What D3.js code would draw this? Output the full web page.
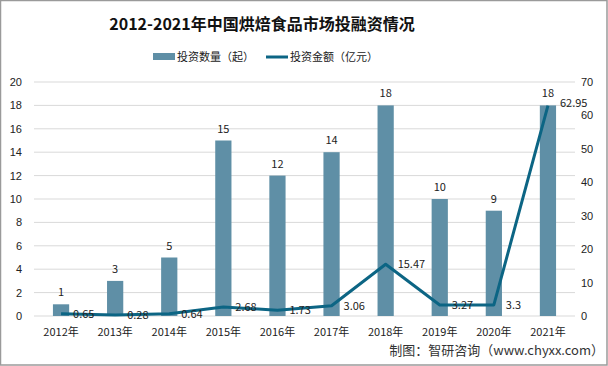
<!DOCTYPE html>
<html lang="zh">
<head>
<meta charset="UTF-8">
<script src="https://d3js.org/d3.v7.min.js"></script>
<style>
  body { margin: 0; background: #fff; }
  svg { display: block; font-family: "Noto Sans CJK SC", "Liberation Sans", sans-serif; }
</style>
</head>
<body>
<div id="chart"></div>
<script>
// 数据
const years = ["2012年", "2013年", "2014年", "2015年", "2016年", "2017年", "2018年", "2019年", "2020年", "2021年"];
const counts = [1, 3, 5, 15, 12, 14, 18, 10, 9, 18];
const amounts = [0.65, 0.28, 0.64, 2.68, 1.73, 3.06, 15.47, 3.27, 3.3, 62.95];
const leftTicks = [0, 2, 4, 6, 8, 10, 12, 14, 16, 18, 20];
const rightTicks = [0, 10, 20, 30, 40, 50, 60, 70];

const W = 608, H = 366;
const margin = { top: 82, right: 33, bottom: 50, left: 34 };
const barColor = "#5f8fa6", lineColor = "#0c6584";

const svg = d3.select("#chart").append("svg")
  .attr("width", W).attr("height", H);

svg.append("rect")
  .attr("x", 0.5).attr("y", 0.5).attr("width", W - 1.5).attr("height", H - 1.5)
  .attr("fill", "#fff").attr("stroke", "#9a9a9a").attr("stroke-width", 1.5);

const x = d3.scaleBand().domain(years)
  .range([margin.left, W - margin.right]).paddingInner(0.7).paddingOuter(0.35);
const yL = d3.scaleLinear().domain([0, 20]).range([H - margin.bottom, margin.top]);
const yR = d3.scaleLinear().domain([0, 70]).range([H - margin.bottom, margin.top]);

// 网格线
svg.append("g").selectAll("line").data(leftTicks).join("line")
  .attr("x1", margin.left).attr("x2", W - margin.right)
  .attr("y1", d => yL(d)).attr("y2", d => yL(d))
  .attr("stroke", "#d9d9d9").attr("stroke-width", 1);

// 左轴
const axL = svg.append("g").attr("transform", `translate(${margin.left - 12},0)`)
  .call(d3.axisLeft(yL).tickValues(leftTicks).tickSize(0).tickPadding(0));
axL.select(".domain").remove();
axL.selectAll("text").attr("font-size", 11).attr("fill", "#222");

// 右轴
const axR = svg.append("g").attr("transform", `translate(${W - margin.right + 6},0)`)
  .call(d3.axisRight(yR).tickValues(rightTicks).tickSize(0).tickPadding(0));
axR.select(".domain").remove();
axR.selectAll("text").attr("font-size", 11).attr("fill", "#222");

// X 轴标签
svg.append("g").selectAll("text").data(years).join("text")
  .attr("x", d => x(d) + x.bandwidth() / 2)
  .attr("y", H - margin.bottom + 20)
  .attr("text-anchor", "middle").attr("font-size", 11).attr("fill", "#222")
  .text(d => d);

// 柱子
svg.append("g").selectAll("rect").data(counts).join("rect")
  .attr("x", (d, i) => x(years[i]))
  .attr("y", d => yL(d))
  .attr("width", x.bandwidth())
  .attr("height", d => yL(0) - yL(d))
  .attr("fill", barColor);

svg.append("g").selectAll("text").data(counts).join("text")
  .attr("x", (d, i) => x(years[i]) + x.bandwidth() / 2)
  .attr("y", d => yL(d) - 8)
  .attr("text-anchor", "middle").attr("font-size", 11).attr("fill", "#222")
  .text(d => d);

// 折线
const line = d3.line()
  .x((d, i) => x(years[i]) + x.bandwidth() / 2)
  .y(d => yR(d));

svg.append("path").datum(amounts)
  .attr("d", line).attr("fill", "none")
  .attr("stroke", lineColor).attr("stroke-width", 3)
  .attr("stroke-linejoin", "round");

svg.append("g").selectAll("text").data(amounts).join("text")
  .attr("x", (d, i) => x(years[i]) + x.bandwidth() / 2 + 12)
  .attr("y", (d, i) => yR(d) + (i === amounts.length - 1 ? 1 : 4))
  .attr("font-size", 11).attr("fill", "#222")
  .text(d => d);

// 标题
svg.append("text").attr("x", 262).attr("y", 30)
  .attr("text-anchor", "middle").attr("font-size", 16).attr("font-weight", "bold")
  .attr("fill", "#111").text("2012-2021年中国烘焙食品市场投融资情况");

// 图例
const lg = svg.append("g");
lg.append("rect").attr("x", 153).attr("y", 53).attr("width", 22).attr("height", 7).attr("fill", barColor);
lg.append("text").attr("x", 177).attr("y", 61).attr("font-size", 11).attr("fill", "#222").text("投资数量（起）");
lg.append("line").attr("x1", 266).attr("x2", 288).attr("y1", 57).attr("y2", 57)
  .attr("stroke", lineColor).attr("stroke-width", 3);
lg.append("text").attr("x", 290).attr("y", 61).attr("font-size", 11).attr("fill", "#222").text("投资金额（亿元）");

// 来源
svg.append("text").attr("x", 604).attr("y", 355)
  .attr("text-anchor", "end").attr("font-size", 13).attr("fill", "#333")
  .text("制图：智研咨询（www.chyxx.com）");
</script>
</body>
</html>
